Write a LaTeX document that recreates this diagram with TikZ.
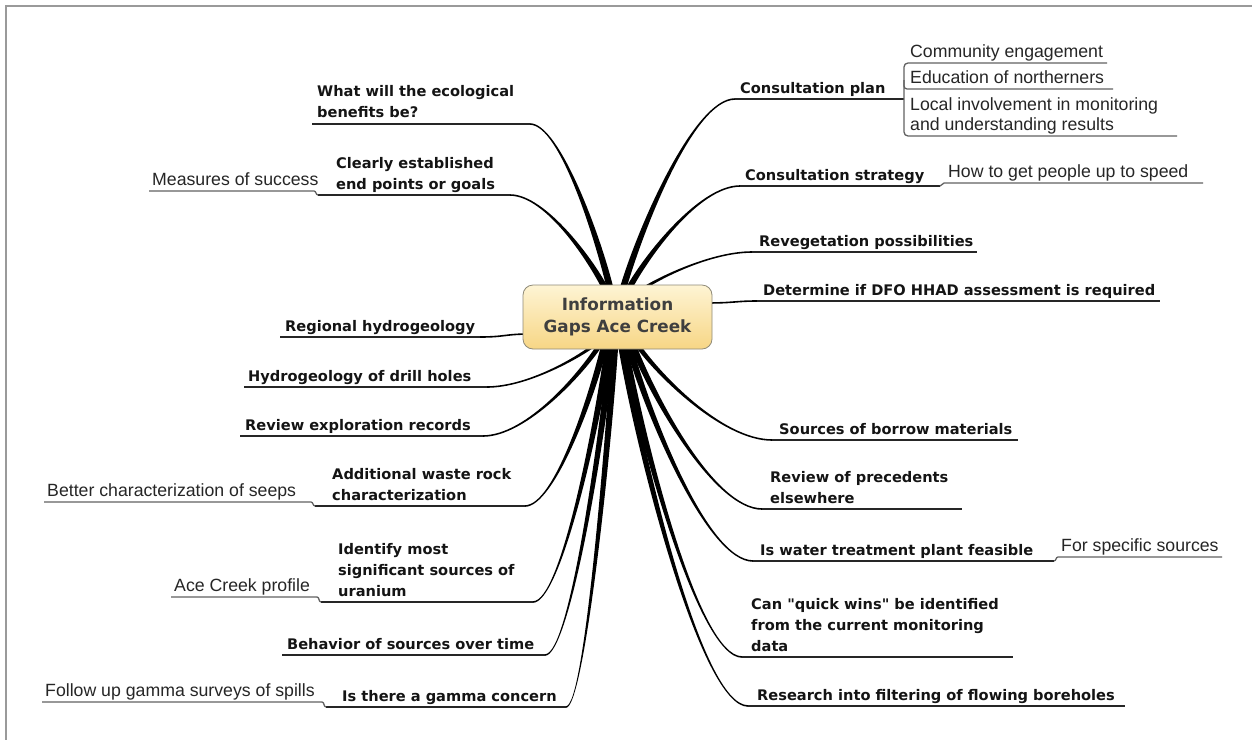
\documentclass[tikz,border=0pt]{standalone}
\usepackage{fontspec}
\setmainfont{Liberation Sans}
\newfontfamily\djv{DejaVu Sans}
\usetikzlibrary{calc}
\definecolor{rootA}{HTML}{FEF4D4}
\definecolor{rootB}{HTML}{F7D685}
\definecolor{rootE}{HTML}{8F8A78}
\definecolor{roottxt}{HTML}{3F3F3F}
\definecolor{frameC}{HTML}{9A9A9A}
\tikzset{
  maintext/.style={anchor=base west, inner sep=0pt, align=left, text=black!92,
    font=\djv\bfseries\fontsize{14.6}{20.7}\selectfont},
  subtext/.style={anchor=base west, inner sep=0pt, align=left, text=black!85,
    font=\fontsize{17.7}{20}\selectfont},
  mainline/.style={draw=black!85, line width=1.3pt},
  subline/.style={draw=black!62, line width=1.3pt},
  brfill/.style={fill=black},
  thinbranch/.style={draw=black, line width=1.6pt},
  framel/.style={draw=frameC, line width=1.5pt},
  rootbox/.style={draw=rootE, line width=0.8pt, rounded corners=10pt,
    top color=rootA, bottom color=rootB, minimum width=189pt, minimum height=64pt,
    align=center, text=roottxt, inner sep=0pt,
    font=\djv\bfseries\fontsize{16.8}{21.5}\selectfont}
}
% tapered branch: #1 start, #2 end, #3 start half width, #4 side sign
\newcommand\taper[4]{%
  \fill[brfill] let \p1=(#1), \p2=(#2) in
    ({\x1-#3},\y1)
    .. controls ({\x1+0.15*(\x2-\x1)-#3},{\y1+0.31*(\y2-\y1)}) and ({\x2+0.37*(\x1-\x2)},{\y2+(#4)*0.8pt}) .. ({\x2},{\y2+(#4)*0.8pt})
    -- ({\x2},{\y2-(#4)*0.8pt})
    .. controls ({\x2+0.37*(\x1-\x2)},{\y2-(#4)*0.8pt}) and ({\x1+0.15*(\x2-\x1)+#3},{\y1+0.31*(\y2-\y1)}) .. ({\x1+#3},\y1) -- cycle;}
\begin{document}
\begin{tikzpicture}[x=1pt,y=-1pt]
\useasboundingbox (0,0) rectangle (1252,740);
\fill[white] (0,0) rectangle (1252,740);
\draw[framel] (1252,6) -- (6,6) -- (6,740);

% start coordinates (inside the root box)
\coordinate (aL1) at (611,292);
\coordinate (aL2) at (607,292);
\coordinate (aCP) at (622,292);
\coordinate (aCS) at (627,292);
\coordinate (aRV) at (638,292);
\coordinate (aDT) at (705,303);
\coordinate (aRG) at (530,334);
\coordinate (aL4) at (597,343);
\coordinate (aL5) at (601,343);
\coordinate (aL6) at (605,343);
\coordinate (aL7) at (609,343);
\coordinate (aL8) at (612,343);
\coordinate (aL9) at (615,343);
\coordinate (aR9) at (621,343);
\coordinate (aR8) at (624,343);
\coordinate (aR7) at (628,343);
\coordinate (aR6) at (632,343);
\coordinate (aR5) at (636,343);
% end coordinates (start of each underline)
\coordinate (bL1) at (530,124);
\coordinate (bL2) at (510,195);
\coordinate (bCP) at (735,99);
\coordinate (bCS) at (740,186);
\coordinate (bRV) at (752,252);
\coordinate (bDT) at (757,301);
\coordinate (bRG) at (480,337);
\coordinate (bL4) at (487,387);
\coordinate (bL5) at (483,436);
\coordinate (bL6) at (525,506);
\coordinate (bL7) at (533,602);
\coordinate (bL8) at (545,655);
\coordinate (bL9) at (566,707);
\coordinate (bR5) at (772,440);
\coordinate (bR6) at (762,509);
\coordinate (bR7) at (753,561);
\coordinate (bR8) at (742,657);
\coordinate (bR9) at (748,706);
% far ends of underlines
\coordinate (cL1) at (312,124);
\coordinate (cL2) at (318,195);
\coordinate (cCP) at (904,99);
\coordinate (cCS) at (940,186);
\coordinate (cRV) at (977,252);
\coordinate (cDT) at (1160,301);
\coordinate (cRG) at (280,337);
\coordinate (cL4) at (244,387);
\coordinate (cL5) at (240,436);
\coordinate (cL6) at (315,506);
\coordinate (cL7) at (321,602);
\coordinate (cL8) at (282,655);
\coordinate (cL9) at (326,707);
\coordinate (cR5) at (1018,440);
\coordinate (cR6) at (962,509);
\coordinate (cR7) at (1054,561);
\coordinate (cR8) at (1013,657);
\coordinate (cR9) at (1125,706);

% tapered branches
\taper{aL1}{bL1}{3.4pt}{-1}
\taper{aL2}{bL2}{3.4pt}{-1}
\taper{aCP}{bCP}{3.4pt}{1}
\taper{aCS}{bCS}{3.4pt}{1}
\taper{aRV}{bRV}{3.0pt}{1}
\taper{aL4}{bL4}{2.8pt}{1}
\taper{aL5}{bL5}{3.0pt}{1}
\taper{aL6}{bL6}{3.4pt}{1}
\taper{aL7}{bL7}{3.4pt}{1}
\taper{aL8}{bL8}{3.4pt}{1}
\taper{aL9}{bL9}{3.4pt}{1}
\taper{aR9}{bR9}{3.4pt}{-1}
\taper{aR8}{bR8}{3.4pt}{-1}
\taper{aR7}{bR7}{3.4pt}{-1}
\taper{aR6}{bR6}{3.4pt}{-1}
\taper{aR5}{bR5}{3.0pt}{-1}
\draw[thinbranch] (aDT) .. controls (735,303) and (735,301) .. (bDT);
\draw[thinbranch] (aRG) .. controls (505,334) and (505,337) .. (bRG);

% main underlines
\foreach \n in {L1,L2,CP,CS,RV,DT,RG,L4,L5,L6,L7,L8,L9,R5,R6,R7,R8,R9}
  \draw[mainline] (b\n) -- (c\n);

% sub-topic connectors
\coordinate (dCE) at (1107,63);
\coordinate (dED) at (1113,89);
\coordinate (dLI) at (1177,136);
\draw[subline, rounded corners=4pt] (dCE) -- (904,63) -- (904,136) -- (dLI);
\draw[subline, rounded corners=3pt] (904,80) -- (904,89) -- (dED);
\coordinate (dHT) at (1203,183);
\draw[subline] (cCS) to[out=0,in=180] (944,183) -- (dHT);
\coordinate (dFS) at (1222,557);
\draw[subline] (cR7) to[out=0,in=180] (1058,557) -- (dFS);
\coordinate (dMS) at (149,191);
\draw[subline] (cL2) to[out=180,in=0] (314,191) -- (dMS);
\coordinate (dBC) at (44,502);
\draw[subline] (cL6) to[out=180,in=0] (311,502) -- (dBC);
\coordinate (dAC) at (171,597);
\draw[subline] (cL7) to[out=180,in=0] (317,597) -- (dAC);
\coordinate (dFU) at (42,702);
\draw[subline] (cL9) to[out=180,in=0] (322,702) -- (dFU);

% root
\node[rootbox] (root) at (617.5,317) {Information\\Gaps Ace Creek};

% main topic texts (multi-line nodes placed at their last baseline)
\node[maintext] (tCP) at (740,93) {Consultation plan};
\node[maintext] (tCS) at (745,180) {Consultation strategy};
\node[maintext] (tRV) at (759,246) {Revegetation possibilities};
\node[maintext] (tDT) at (763,295) {Determine if DFO HHAD assessment is required};
\node[maintext] (tR5) at (779,434) {Sources of borrow materials};
\node[maintext] (tR6) at (770,503) {Review of precedents\\elsewhere};
\node[maintext] (tR7) at (760,555) {Is water treatment plant feasible};
\node[maintext] (tR8) at (751,651) {Can "quick wins" be identified\\from the current monitoring\\data};
\node[maintext] (tR9) at (757,700) {Research into filtering of flowing boreholes};
\node[maintext] (tL1) at (317,117) {What will the ecological\\benefits be?};
\node[maintext] (tL2) at (336,189) {Clearly established\\end points or goals};
\node[maintext] (tRG) at (285,331) {Regional hydrogeology};
\node[maintext] (tL4) at (248,381) {Hydrogeology of drill holes};
\node[maintext] (tL5) at (245,430) {Review exploration records};
\node[maintext] (tL6) at (332,500) {Additional waste rock\\characterization};
\node[maintext] (tL7) at (338,596) {Identify most\\significant sources of\\uranium};
\node[maintext] (tL8) at (287,649) {Behavior of sources over time};
\node[maintext] (tL9) at (342,701) {Is there a gamma concern};

% sub topic texts
\node[subtext] (sCE) at (910,57) {Community engagement};
\node[subtext] (sED) at (910,83) {Education of northerners};
\node[subtext] (sLI) at (910,130) {Local involvement in monitoring\\and understanding results};
\node[subtext] (sHT) at (948,177) {How to get people up to speed};
\node[subtext] (sFS) at (1061,551) {For specific sources};
\node[subtext] (sMS) at (152,185) {Measures of success};
\node[subtext] (sBC) at (47,496) {Better characterization of seeps};
\node[subtext] (sAC) at (174,591) {Ace Creek profile};
\node[subtext] (sFU) at (45,696) {Follow up gamma surveys of spills};
\end{tikzpicture}
\end{document}
